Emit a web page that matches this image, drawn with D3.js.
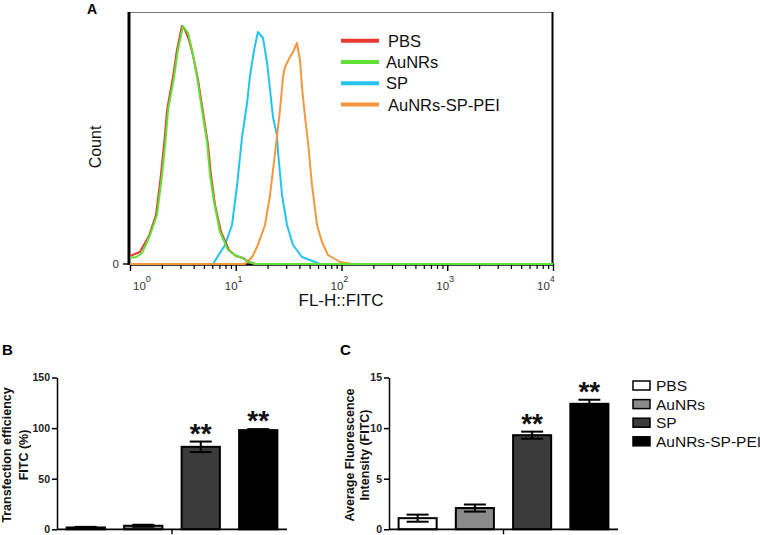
<!DOCTYPE html>
<html><head><meta charset="utf-8">
<script src="https://cdn.jsdelivr.net/npm/d3@7"></script>
<style>
body{margin:0;background:#fff}
svg{display:block}
text{font-family:"Liberation Sans",Arial,Helvetica,sans-serif}
</style>
</head><body>
<svg id="chart" width="760" height="535"></svg>
<script>
// ---------- Panel A: flow cytometry histograms (FITC value, count) ----------
const fitcPBS   = [1, 1.24, 1.51, 1.76, 1.96, 2.14, 2.24, 2.55, 2.78, 3.10, 3.31, 3.61, 3.94, 4.40, 4.90, 5.47, 5.83, 6.37, 7.26, 8.63, 10.05, 11.7, 13.3, 15.5, 10000];
const countPBS  = [8, 12, 28, 49, 89, 129, 154, 187, 214, 238, 234, 224, 209, 184, 152, 119, 89, 59, 32, 14, 8, 6, 2, 0, 0];
const fitcAuNRs = [1, 1.15, 1.30, 1.55, 1.80, 2.01, 2.19, 2.29, 2.61, 2.84, 3.17, 3.54, 3.86, 4.30, 4.80, 5.35, 5.71, 6.23, 7.10, 8.45, 9.84, 11.5, 13.1, 15.2, 10000];
const countAuNRs= [6, 7, 11, 29, 49, 89, 129, 154, 187, 214, 238, 231, 214, 187, 154, 122, 89, 62, 32, 14, 9, 6, 2, 0, 0];
const fitcSP    = [1, 6.09, 7.91, 9.22, 10.3, 11.5, 12.8, 13.6, 14.9, 16.2, 18.1, 19.8, 21.1, 22.5, 24.5, 25.1, 27.4, 30.5, 34.8, 42.3, 56.1, 62.6, 10000];
const countSP   = [0, 0, 19, 39, 79, 128, 161, 187, 214, 232, 226, 201, 174, 147, 129, 112, 69, 39, 19, 7, 2, 0, 0];
const fitcMix   = [1, 12.2, 14.3, 16.2, 18.9, 21.1, 23.0, 24.5, 26.2, 28.0, 29.2, 32.6, 34.8, 37.9, 40.5, 42.3, 45.2, 48.2, 52.6, 58.7, 65.4, 74.5, 96.8, 128, 10000];
const countMix  = [0, 0, 7, 19, 39, 69, 102, 127, 154, 187, 197, 207, 212, 221, 204, 177, 147, 122, 79, 39, 22, 9, 2, 0, 0];
const histNames = ["PBS", "AuNRs", "SP", "AuNRs-SP-PEI"];
const decadeTicks = [1, 10, 100, 1000, 10000];

// ---------- Panels B and C: bar charts ----------
const categories = ["PBS", "AuNRs", "SP", "AuNRs-SP-PEI"];
const transfection = [1.8, 3.5, 81.5, 98.0];
const transfectionErr = [0.6, 1.0, 5.2, 1.0];
const intensity = [1.1, 2.1, 9.3, 12.4];
const intensityErr = [0.35, 0.35, 0.35, 0.4];
const significance = ["", "", "**", "**"];
const ticksB = [0, 50, 100, 150];
const ticksC = [0, 5, 10, 15];

const histColors = ["#e8392f", "#62e03a", "#22c3f0", "#f5963c"];
const barColors = ["#ffffff", "#8a8a8a", "#3b3b3b", "#000000"];

const svg = d3.select("#chart");

// ================= Panel A =================
const xA = d3.scaleLog().domain([1, 1e4]).range([130, 553]);
const yA = d3.scaleLinear().domain([0, 252]).range([264, 12]);
const gA = svg.append("g");
const [ax0, ax1] = xA.range();
const [ay0, ay1] = yA.range();

// frame
gA.append("line").attr("x1", ax0 - 1).attr("x2", ax1).attr("y1", ay1 + 0.5).attr("y2", ay1 + 0.5)
  .attr("stroke", "#7a7a7a").attr("stroke-width", 1);
gA.append("line").attr("x1", ax1 - 0.5).attr("x2", ax1 - 0.5).attr("y1", ay1).attr("y2", ay0 + 1)
  .attr("stroke", "#000").attr("stroke-width", 2);

// minor + major ticks
const minorTicks = [];
decadeTicks.slice(0, -1).forEach(d => { for (let m = 2; m <= 9; m++) minorTicks.push(d * m); });
const axMinor = gA.append("g").attr("transform", `translate(0,${ay0})`)
  .call(d3.axisBottom(xA).tickValues(minorTicks).tickSize(5).tickSizeOuter(0).tickFormat(""));
axMinor.select(".domain").remove();
axMinor.selectAll("line").attr("stroke", "#000").attr("stroke-width", 1.2);
const axMajor = gA.append("g").attr("transform", `translate(0,${ay0})`)
  .call(d3.axisBottom(xA).tickValues(decadeTicks).tickSize(7).tickSizeOuter(0).tickFormat(""));
axMajor.select(".domain").attr("stroke", "#000").attr("stroke-width", 2.5);
axMajor.selectAll("line").attr("stroke", "#000").attr("stroke-width", 1.4);

// left axis
gA.append("line").attr("x1", ax0 - 1).attr("x2", ax0 - 1).attr("y1", ay1).attr("y2", ay0 + 1)
  .attr("stroke", "#000").attr("stroke-width", 3);
gA.append("line").attr("x1", ax0 - 7).attr("x2", ax0 - 1).attr("y1", yA(0)).attr("y2", yA(0))
  .attr("stroke", "#000").attr("stroke-width", 1.4);
gA.append("text").attr("x", ax0 - 11).attr("y", yA(0) + 4).attr("text-anchor", "end")
  .attr("font-size", 11.5).attr("fill", "#333").text("0");

// decade labels 10^n
decadeTicks.forEach((d, i) => {
  const px = Math.max(133, Math.min(537, xA(d) - 11));
  const t = gA.append("text").attr("x", px).attr("y", 290).attr("font-size", 11.5).attr("fill", "#333");
  t.append("tspan").text("10");
  t.append("tspan").attr("dy", -8).attr("font-size", 9).text(String(i));
});

// axis titles
gA.append("text").attr("transform", "translate(101,147) rotate(-90)").attr("text-anchor", "middle")
  .attr("font-size", 16).attr("fill", "#111").text("Count");
gA.append("text").attr("x", 341).attr("y", 306).attr("text-anchor", "middle")
  .attr("font-size", 17).attr("fill", "#111").text("FL-H::FITC");
svg.append("text").attr("x", 87).attr("y", 14).attr("font-size", 14).attr("font-weight", "bold").text("A");

// histogram curves
const series = [
  {name: histNames[0], fitc: fitcPBS, count: countPBS, color: histColors[0]},
  {name: histNames[1], fitc: fitcAuNRs, count: countAuNRs, color: histColors[1]},
  {name: histNames[2], fitc: fitcSP, count: countSP, color: histColors[2]},
  {name: histNames[3], fitc: fitcMix, count: countMix, color: histColors[3]}
];
const lineA = d3.line().x(d => xA(d[0])).y(d => yA(d[1]));
[2, 3, 0, 1].forEach(k => {
  const s = series[k];
  gA.append("path").datum(d3.zip(s.fitc, s.count)).attr("d", lineA)
    .attr("fill", "none").attr("stroke", s.color).attr("stroke-width", 2).attr("stroke-linejoin", "round");
});

// legend A
series.forEach((s, i) => {
  const yy = 40.7 + 21.3 * i;
  gA.append("line").attr("x1", 341).attr("x2", 379).attr("y1", yy).attr("y2", yy)
    .attr("stroke", s.color).attr("stroke-width", 4);
  gA.append("text").attr("x", i === 0 || i === 3 ? 388 : 386).attr("y", yy + 6)
    .attr("font-size", 16.5).attr("fill", "#111").text(s.name);
});

// ================= Bar panels =================
function barPanel(o) {
  const g = svg.append("g");
  const x = d3.scaleBand().domain(categories).range([o.x0, o.x1]).paddingInner(0.3).paddingOuter(0.15);
  const y = d3.scaleLinear().domain([0, o.max]).range([529.3, 377.5]);
  // y axis
  const ya = g.append("g").attr("transform", `translate(${o.x0},0)`)
    .call(d3.axisLeft(y).tickValues(o.ticks).tickSize(5).tickSizeOuter(0).tickPadding(2));
  ya.select(".domain").attr("stroke", "#000").attr("stroke-width", 1.5);
  ya.selectAll("line").attr("stroke", "#000").attr("stroke-width", 1.5);
  ya.selectAll("text").attr("font-size", 10.5).attr("font-weight", "bold").attr("fill", "#222")
    .style("font-family", '"Liberation Sans",Arial,sans-serif');
  // bars
  g.selectAll("rect.bar").data(categories).join("rect").attr("class", "bar")
    .attr("x", d => x(d) + 1).attr("width", x.bandwidth() - 2)
    .attr("y", (d, i) => y(o.values[i])).attr("height", (d, i) => y(0) - y(o.values[i]))
    .attr("fill", (d, i) => barColors[i]).attr("stroke", "#000").attr("stroke-width", 2);
  // x axis
  g.append("line").attr("x1", o.x0).attr("x2", o.x1).attr("y1", y(0)).attr("y2", y(0))
    .attr("stroke", "#000").attr("stroke-width", 1.8);
  const mid = (o.x0 + o.x1) / 2;
  g.append("line").attr("x1", mid).attr("x2", mid).attr("y1", y(0)).attr("y2", y(0) + 5)
    .attr("stroke", "#000").attr("stroke-width", 1.4);
  // error bars
  categories.forEach((c, i) => {
    const cx = x(c) + x.bandwidth() / 2;
    const hi = y(o.values[i] + o.errs[i]), lo = y(o.values[i] - o.errs[i]);
    g.append("line").attr("x1", cx).attr("x2", cx).attr("y1", hi).attr("y2", lo).attr("stroke", "#000").attr("stroke-width", 2);
    [hi, lo].forEach(v => g.append("line").attr("x1", cx - 11).attr("x2", cx + 11).attr("y1", v).attr("y2", v)
      .attr("stroke", "#000").attr("stroke-width", 2));
    if (significance[i]) {
      g.append("text").attr("x", cx).attr("y", hi + 1).attr("text-anchor", "middle")
        .attr("font-size", 28).attr("font-weight", "bold").attr("fill", "#111").text(significance[i]);
    }
  });
  // axis title (two lines)
  g.append("text").attr("transform", `translate(${o.l1x},455) rotate(-90)`).attr("text-anchor", "middle")
    .attr("font-size", 12.5).attr("font-weight", "bold").attr("fill", "#111").text(o.label1);
  g.append("text").attr("transform", `translate(${o.l2x},455) rotate(-90)`).attr("text-anchor", "middle")
    .attr("font-size", 12.5).attr("font-weight", "bold").attr("fill", "#111").text(o.label2);
  svg.append("text").attr("x", o.letterX).attr("y", 355).attr("font-size", 15).attr("font-weight", "bold").text(o.letter);
  return {x, y};
}

barPanel({x0: 57, x1: 287, max: 150, ticks: ticksB, values: transfection, errs: transfectionErr,
  label1: "Transfection efficiency", label2: "FITC (%)", l1x: 11, l2x: 28, letter: "B", letterX: 2});
barPanel({x0: 389, x1: 618, max: 15, ticks: ticksC, values: intensity, errs: intensityErr,
  label1: "Average Fluorescence", label2: "Intensity (FITC)", l1x: 354, l2x: 369, letter: "C", letterX: 340});

// legend C
categories.forEach((c, i) => {
  const yy = 385.5 + 18.6 * i;
  svg.append("rect").attr("x", 633).attr("y", yy - 4.5).attr("width", 17).attr("height", 9)
    .attr("fill", barColors[i]).attr("stroke", "#000").attr("stroke-width", 1.5);
  svg.append("text").attr("x", 656).attr("y", yy + 5.5).attr("font-size", 15.5).attr("fill", "#111").text(c);
});
</script>
</body></html>
